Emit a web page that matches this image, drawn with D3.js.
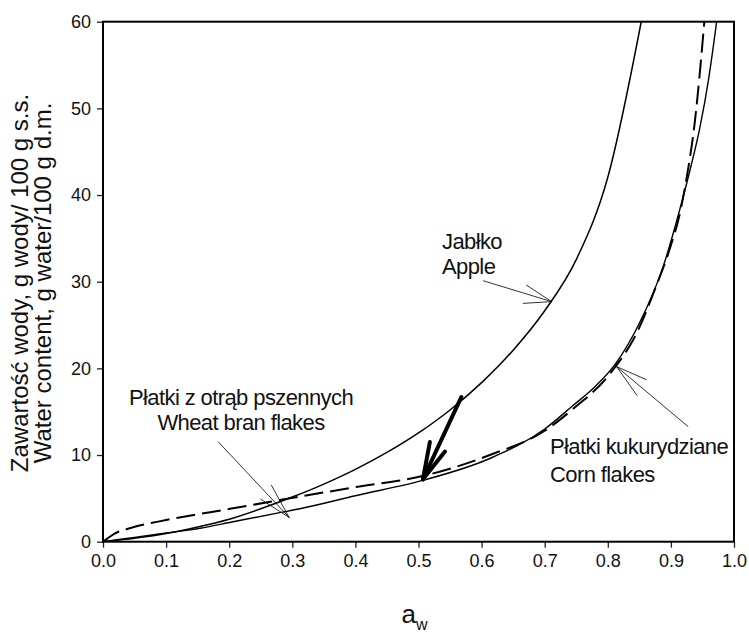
<!DOCTYPE html>
<html>
<head>
<meta charset="utf-8">
<script src="https://cdn.jsdelivr.net/npm/d3@7"></script>
<style>
  html, body { margin: 0; padding: 0; background: #fff; }
  svg { display: block; font-family: "Liberation Sans", Arial, sans-serif; }
</style>
</head>
<body>
<script>
// ---- data ----
const xTicks = [0.0, 0.1, 0.2, 0.3, 0.4, 0.5, 0.6, 0.7, 0.8, 0.9, 1.0];
const yTicks = [0, 10, 20, 30, 40, 50, 60];

// Jabłko / Apple (solid)
const appleAw = [0, 0.05, 0.1, 0.15, 0.2, 0.25, 0.3, 0.35, 0.4, 0.45, 0.5, 0.55, 0.6, 0.65, 0.7, 0.75, 0.8, 0.853];
const appleWc = [0, 0.4, 0.95, 1.7, 2.6, 3.8, 5.15, 6.65, 8.35, 10.3, 12.55, 15.2, 18.35, 22.1, 26.65, 32.55, 42.05, 60];

// lower solid curve
const solidAw = [0, 0.05, 0.1, 0.154, 0.206, 0.28, 0.312, 0.4, 0.508, 0.613, 0.7, 0.743, 0.78, 0.813, 0.85, 0.888, 0.914, 0.93, 0.946, 0.96, 0.9725];
const solidWc = [0, 0.5, 1.0, 1.55, 2.3, 3.35, 3.8, 5.3, 7.1, 9.6, 13.0, 15.6, 17.9, 20.6, 25.2, 31.8, 38.3, 42.8, 47.8, 53.5, 60];

// dashed curve
const dashAw = [0, 0.02, 0.045, 0.1, 0.206, 0.28, 0.4, 0.508, 0.613, 0.7, 0.743, 0.803, 0.848, 0.873, 0.9, 0.912, 0.925, 0.938, 0.953];
const dashWc = [0, 1.0, 1.6, 2.5, 3.85, 4.8, 6.3, 7.6, 10.0, 12.8, 15.2, 19.35, 24.4, 28.8, 34.2, 37.2, 42.0, 48.5, 60];

// annotation pointers (data units): [from, tip, barb1, barb2]
const applePtr = [[0.603, 30.1], [0.711, 27.7], [0.671, 29.6], [0.666, 27.5]];
const wheatPtr = [[0.183, 11.5], [0.295, 2.8], [0.267, 6.5], [0.250, 4.9]];
const cornPtr  = [[0.927, 13.3], [0.814, 20.2], [0.861, 18.7], [0.846, 16.9]];
const boldPtr  = [[0.568, 16.7], [0.507, 7.2], [0.518, 11.5], [0.542, 10.4]];

// ---- layout ----
const W = 749, H = 632;
const mLeft = 103, mRight = 734, mTop = 21.7, mBottom = 541.7;

const svg = d3.select("body").append("svg").attr("width", W).attr("height", H);

const x = d3.scaleLinear().domain([0, 1]).range([mLeft, mRight]);
const y = d3.scaleLinear().domain([0, 60]).range([mBottom, mTop]);

// axes
const xAxis = d3.axisBottom(x).tickValues(xTicks).tickFormat(d3.format(".1f")).tickSize(6).tickPadding(7);
const yAxis = d3.axisLeft(y).tickValues(yTicks).tickFormat(d3.format("d")).tickSize(6).tickPadding(6);

const gx = svg.append("g").attr("transform", `translate(0,${mBottom})`).call(xAxis);
const gy = svg.append("g").attr("transform", `translate(${mLeft},0)`).call(yAxis);
[gx, gy].forEach(g => {
  g.select(".domain").remove();
  g.selectAll(".tick line").attr("stroke", "#222").attr("stroke-width", 1.3);
  g.selectAll(".tick text").attr("fill", "#111").style("font-size", "18px")
    .style("font-family", "'Liberation Sans', Arial, sans-serif");
});

// frame
svg.append("rect").attr("x", mLeft).attr("y", mTop).attr("width", mRight - mLeft).attr("height", mBottom - mTop)
  .attr("fill", "none").attr("stroke", "#000").attr("stroke-width", 2);

// clip
svg.append("clipPath").attr("id", "clip").append("rect")
  .attr("x", mLeft).attr("y", mTop).attr("width", mRight - mLeft).attr("height", mBottom - mTop);

const line = d3.line().x(d => x(d[0])).y(d => y(d[1])).curve(d3.curveMonotoneX);
const plot = svg.append("g").attr("clip-path", "url(#clip)");

plot.append("path").datum(d3.zip(appleAw, appleWc)).attr("d", line)
  .attr("fill", "none").attr("stroke", "#000").attr("stroke-width", 1.5);
plot.append("path").datum(d3.zip(solidAw, solidWc)).attr("d", line)
  .attr("fill", "none").attr("stroke", "#000").attr("stroke-width", 1.4);
plot.append("path").datum(d3.zip(dashAw, dashWc)).attr("d", line)
  .attr("fill", "none").attr("stroke", "#000").attr("stroke-width", 2).attr("stroke-dasharray", "19,7");

// pointers
function pointer(p, w) {
  const g = svg.append("g").attr("stroke", "#000").attr("stroke-width", w).attr("stroke-linecap", "round").attr("fill", "none");
  g.append("line").attr("x1", x(p[0][0])).attr("y1", y(p[0][1])).attr("x2", x(p[1][0])).attr("y2", y(p[1][1]));
  g.append("line").attr("x1", x(p[2][0])).attr("y1", y(p[2][1])).attr("x2", x(p[1][0])).attr("y2", y(p[1][1]));
  g.append("line").attr("x1", x(p[3][0])).attr("y1", y(p[3][1])).attr("x2", x(p[1][0])).attr("y2", y(p[1][1]));
}
pointer(applePtr, 0.8);
pointer(wheatPtr, 0.8);
pointer(cornPtr, 0.8);
pointer(boldPtr, 4);

// annotation texts
function label(lines, px, py, anchor, lh) {
  const t = svg.append("text").attr("text-anchor", anchor).attr("fill", "#111")
    .style("font-size", "22px").style("letter-spacing", "-0.6px");
  lines.forEach((s, i) => t.append("tspan").attr("x", px).attr("y", py + i * lh).text(s));
}
label(["Jabłko", "Apple"], 442, 249, "start", 25);
label(["Płatki z otrąb pszennych", "Wheat bran flakes"], 241, 405, "middle", 25);
label(["Płatki kukurydziane", "Corn flakes"], 550, 454, "start", 27.5);

// axis titles
const xt = svg.append("text").attr("x", (mLeft + mRight) / 2 - 4).attr("y", 623).attr("text-anchor", "middle")
  .attr("fill", "#111").style("font-size", "26px");
xt.append("tspan").text("a");
xt.append("tspan").attr("dy", 7).style("font-size", "16px").text("w");

const yt = svg.append("text").attr("transform", `translate(0,283) rotate(-90)`).attr("text-anchor", "middle")
  .attr("fill", "#111").style("font-size", "24px");
yt.append("tspan").attr("x", 0).attr("y", 28).text("Zawartość wody, g wody/ 100 g s.s.");
yt.append("tspan").attr("x", 0).attr("y", 51).text("Water content, g water/100 g d.m.");
</script>
</body>
</html>
